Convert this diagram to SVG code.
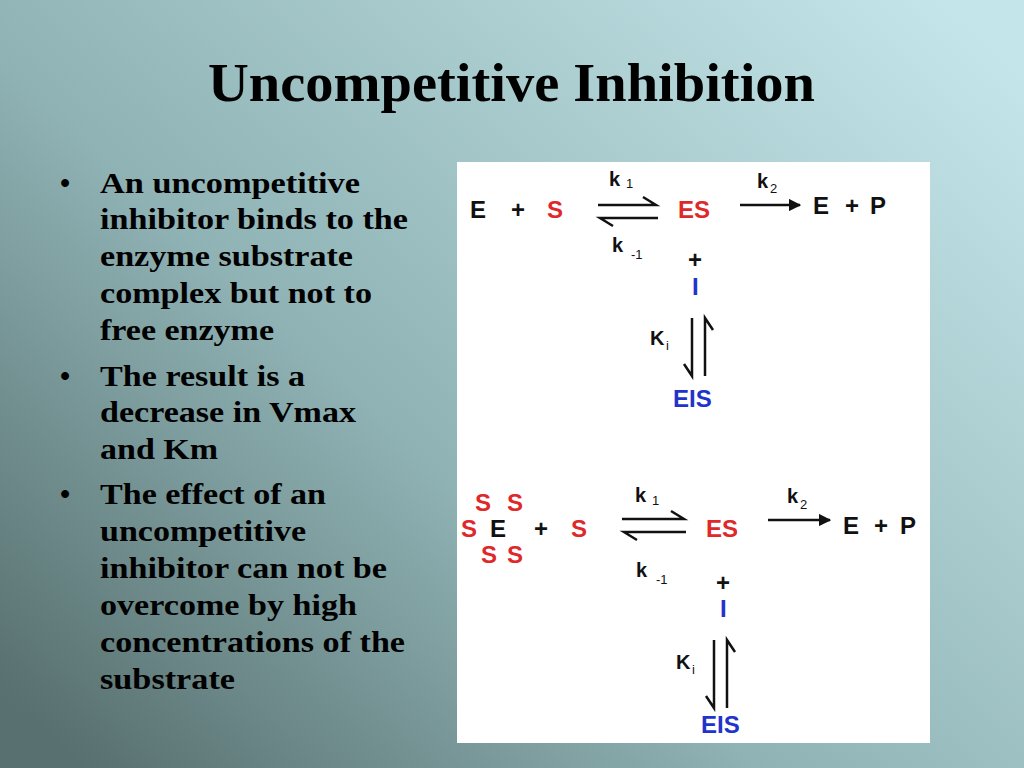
<svg xmlns="http://www.w3.org/2000/svg" width="1024" height="768" viewBox="0 0 1024 768">
<defs>
<linearGradient id="bg" x1="0" y1="0.9" x2="1" y2="0.1">
<stop offset="0" stop-color="#58706f"/>
<stop offset="0.4" stop-color="#8fb2b4"/>
<stop offset="1" stop-color="#c4e6ea"/>
</linearGradient>
<marker id="ah" viewBox="0 0 10 10" refX="9" refY="5" markerWidth="5" markerHeight="5" orient="auto"><path d="M0,0 L10,5 L0,10 Z" fill="#111"/></marker>
<style>
.t{font-family:"Liberation Serif",serif;font-weight:bold;font-size:29px;fill:#000}
.c{font-family:"Liberation Sans",Arial,sans-serif;font-weight:bold;font-size:24px}
.k{font-family:"Liberation Sans",Arial,sans-serif;font-weight:bold;font-size:20px;fill:#111}
.sub{font-family:"Liberation Sans",Arial,sans-serif;font-size:13px;fill:#111}
.b{fill:#111}.r{fill:#e0282a}.bl{fill:#2233cc}
.ar{stroke:#111;stroke-width:2.5;fill:none}
</style>
</defs>
<rect width="1024" height="768" fill="url(#bg)"/>
<text x="208" y="101" textLength="607" lengthAdjust="spacingAndGlyphs" style="font-family:'Liberation Serif',serif;font-weight:bold;font-size:54px">Uncompetitive Inhibition</text>
<g id="bullets" class="t">
<text x="60" y="193">•</text><text x="100" y="193" textLength="260" lengthAdjust="spacingAndGlyphs">An uncompetitive</text>
<text x="100" y="229" textLength="308" lengthAdjust="spacingAndGlyphs">inhibitor binds to the</text>
<text x="100" y="266" textLength="253" lengthAdjust="spacingAndGlyphs">enzyme substrate</text>
<text x="100" y="303" textLength="272" lengthAdjust="spacingAndGlyphs">complex but not to</text>
<text x="100" y="340" textLength="174" lengthAdjust="spacingAndGlyphs">free enzyme</text>
<text x="60" y="386">•</text><text x="100" y="386" textLength="205" lengthAdjust="spacingAndGlyphs">The result is a</text>
<text x="100" y="422" textLength="256" lengthAdjust="spacingAndGlyphs">decrease in Vmax</text>
<text x="100" y="459" textLength="118" lengthAdjust="spacingAndGlyphs">and Km</text>
<text x="60" y="504">•</text><text x="100" y="504" textLength="226" lengthAdjust="spacingAndGlyphs">The effect of an</text>
<text x="100" y="541" textLength="206" lengthAdjust="spacingAndGlyphs">uncompetitive</text>
<text x="100" y="578" textLength="287" lengthAdjust="spacingAndGlyphs">inhibitor can not be</text>
<text x="100" y="615" textLength="257" lengthAdjust="spacingAndGlyphs">overcome by high</text>
<text x="100" y="652" textLength="305" lengthAdjust="spacingAndGlyphs">concentrations of the</text>
<text x="100" y="689" textLength="135" lengthAdjust="spacingAndGlyphs">substrate</text>
</g>
<rect x="457" y="162" width="473" height="581" fill="#fff"/>
<g id="top">
<text class="c b" x="470" y="218">E</text>
<text class="c b" x="511" y="218">+</text>
<text class="c r" x="547" y="218">S</text>
<text class="k" x="609" y="186">k</text><text class="sub" x="626" y="188">1</text>
<text class="k" x="612" y="252">k</text><text class="sub" x="631" y="259">-1</text>
<text class="c r" x="678" y="218">ES</text>
<text class="k" x="757" y="188">k</text><text class="sub" x="770" y="193">2</text>
<text class="c b" x="813" y="214">E</text>
<text class="c b" x="845" y="214">+</text>
<text class="c b" x="870" y="214">P</text>
<text class="c b" x="688" y="268">+</text>
<text class="c bl" x="692" y="295">I</text>
<text class="k" x="650" y="345">K</text><text class="sub" x="666" y="350">i</text>
<text class="c bl" x="673" y="407">EIS</text>
</g>
<g id="bottom">
<text class="c r" x="475" y="511">S</text><text class="c r" x="507" y="511">S</text>
<text class="c r" x="461" y="537">S</text><text class="c b" x="490" y="537">E</text>
<text class="c r" x="481" y="563">S</text><text class="c r" x="507" y="563">S</text>
<text class="c b" x="534" y="537">+</text>
<text class="c r" x="571" y="537">S</text>
<text class="k" x="635" y="502">k</text><text class="sub" x="652" y="505">1</text>
<text class="k" x="636" y="577">k</text><text class="sub" x="656" y="584">-1</text>
<text class="c r" x="706" y="537">ES</text>
<text class="k" x="787" y="503">k</text><text class="sub" x="800" y="509">2</text>
<text class="c b" x="843" y="534">E</text>
<text class="c b" x="874" y="534">+</text>
<text class="c b" x="900" y="534">P</text>
<text class="c b" x="716" y="591">+</text>
<text class="c bl" x="720" y="617">I</text>
<text class="k" x="676" y="669">K</text><text class="sub" x="692" y="674">i</text>
<text class="c bl" x="701" y="733">EIS</text>
</g>
<g id="connectors" class="ar">
<path d="M598,205 H656 L643,197"/>
<path d="M658,218 H600 L613,226"/>
<path d="M740,205 H800" marker-end="url(#ah)"/>
<path d="M692,318 V376 L684,364"/>
<path d="M705,376 V318 L713,330"/>
<path d="M622,519 H684 L671,511"/>
<path d="M686,532 H624 L637,540"/>
<path d="M768,520 H830" marker-end="url(#ah)"/>
<path d="M714,640 V708 L706,696"/>
<path d="M727,708 V640 L735,652"/>
</g>
</svg>
